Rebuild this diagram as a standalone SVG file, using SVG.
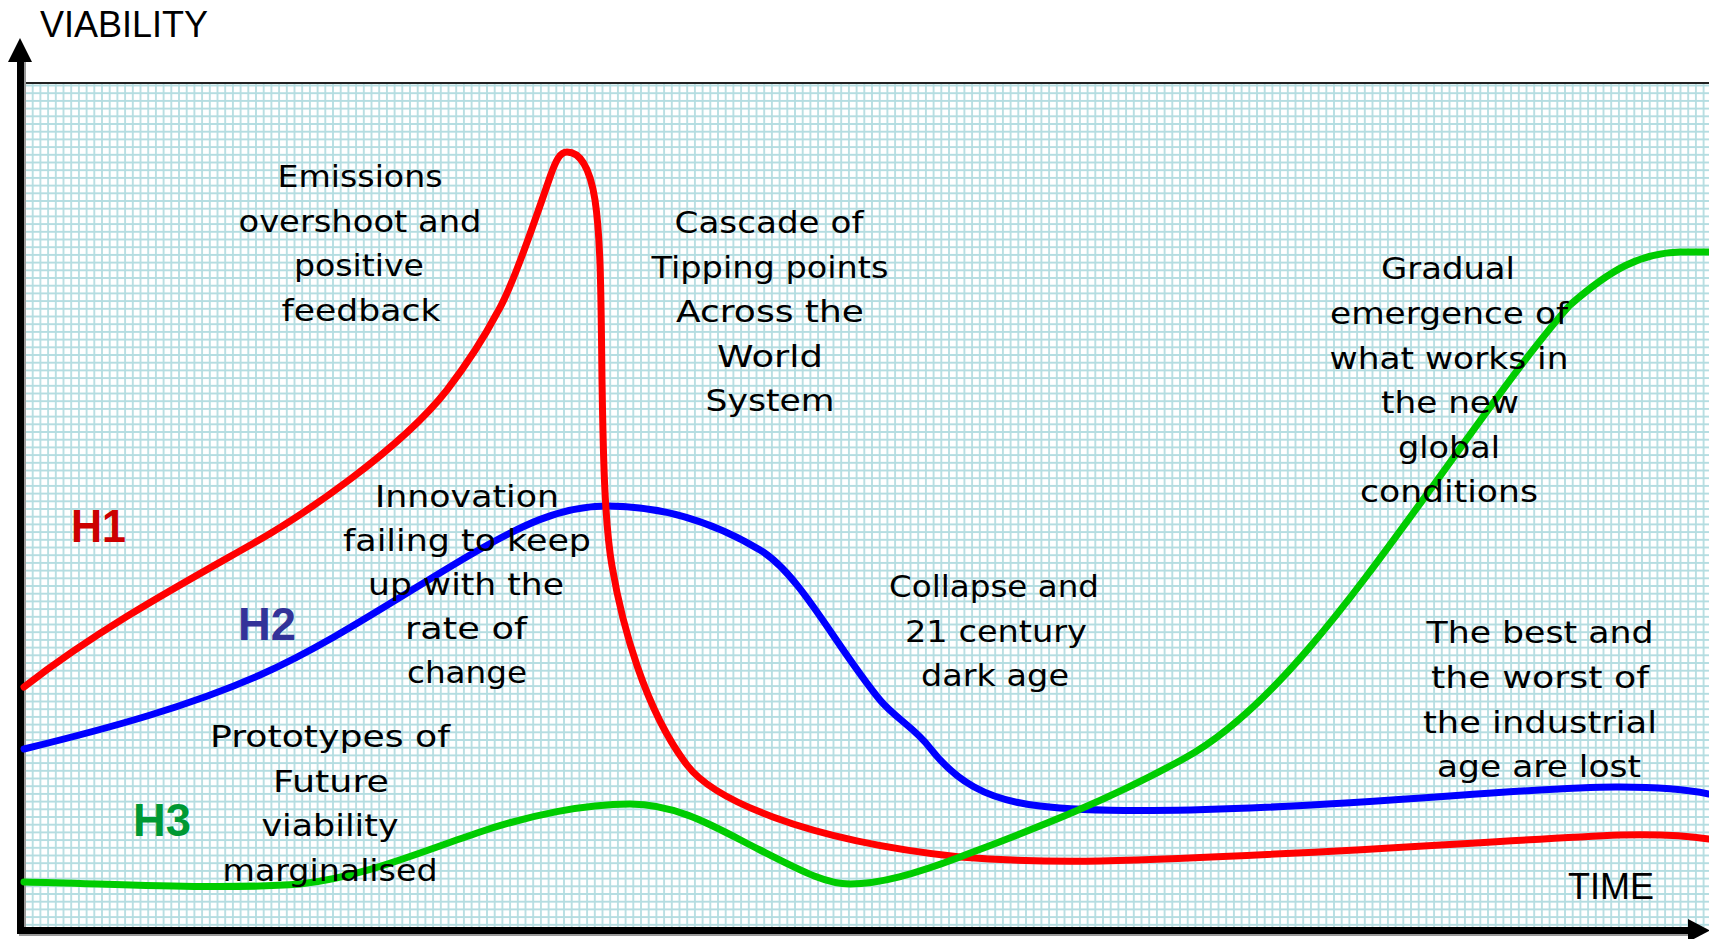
<svg xmlns="http://www.w3.org/2000/svg" width="1709" height="939" viewBox="0 0 1709 939">
<defs>
<pattern id="grid" x="21.15" y="81.65" width="7.7" height="7.7" patternUnits="userSpaceOnUse">
<path d="M3.85,0 V7.7 M0,3.85 H7.7" stroke="#b5dde1" stroke-width="1.8" fill="none"/>
</pattern>
<style>
.lbl{font-family:"DejaVu Sans","Noto Sans",sans-serif;font-size:30px;fill:#000;text-anchor:middle}
.ax{font-family:"Liberation Sans",Arial,sans-serif;font-size:36px;fill:#000}
.h{font-family:"Liberation Sans",Arial,sans-serif;font-size:46px;font-weight:bold}
.crv{fill:none;stroke-width:7;stroke-linecap:round;stroke-linejoin:round}
</style>
</defs>
<rect width="1709" height="939" fill="#fff"/>
<g id="grid-area">
<rect x="24" y="84" width="1685" height="843" fill="url(#grid)"/>
<line x1="24" y1="83" x2="1709" y2="83" stroke="#222" stroke-width="2"/>
</g>
<g id="axes">
<path d="M22.5,60 V932.5 H1690" fill="none" stroke="#999" stroke-width="7"/>
<path d="M20.5,60 V930.5 H1690" fill="none" stroke="#000" stroke-width="7"/>
<polygon points="20,38 8,62 32,62" fill="#000"/>
<polygon points="1710,930.5 1688,919 1688,942" fill="#000"/>
<text class="ax" x="40" y="37">VIABILITY</text>
<text class="ax" x="1568" y="899">TIME</text>
</g>
<g id="connectors">
<path id="curve-h2" class="crv" stroke="#0000ff" d="M24,749 C110,728 190,706 260,675 C330,644 400,596 470,555 C520,526 560,506 607,506 C660,506 710,520 760,550 C800,574 835,645 880,700 C895,718 915,728 930,748 C955,780 985,800 1040,806 C1080,811 1150,812 1250,808 C1400,802 1550,786 1620,787 C1660,787 1690,790 1709,794"/>
<path id="curve-h1" class="crv" stroke="#ff0000" d="M24,687 C100,628 180,585 254,543 C300,517 400,450 447,390 C470,360 488,330 497,313 C510,292 530,235 550,177 C556,160 560,152 567,152 C580,152 590,168 595,200 C601,240 601,300 602,380 C603,440 604,520 612,566 C622,625 645,710 687,765 C712,798 800,840 960,857 C1000,860 1050,862 1100,861 C1300,856 1500,840 1620,835 C1660,834 1690,836 1709,839"/>
<path id="curve-h3" class="crv" stroke="#00cc00" d="M24,882 C120,884 220,890 300,884 C360,878 420,852 480,832 C530,815 585,804 630,804 C680,804 720,830 760,850 C800,870 825,884 850,884 C880,884 915,874 960,857 C1020,834 1100,805 1185,758 C1270,711 1350,600 1430,490 C1480,421 1530,350 1570,305 C1610,270 1640,253 1680,252 C1695,252 1705,252 1709,252"/>
</g>
<g id="label-h1"><text class="h" x="71" y="542" fill="#cc0000" textLength="55" lengthAdjust="spacingAndGlyphs">H1</text></g>
<g id="label-h2"><text class="h" x="238" y="640" fill="#333399" textLength="58" lengthAdjust="spacingAndGlyphs">H2</text></g>
<g id="label-h3"><text class="h" x="133" y="836" fill="#009933" textLength="58" lengthAdjust="spacingAndGlyphs">H3</text></g>
<g id="note-emissions">
<text class="lbl" x="360" y="187" textLength="165" lengthAdjust="spacingAndGlyphs">Emissions</text>
<text class="lbl" x="360" y="231.5" textLength="243" lengthAdjust="spacingAndGlyphs">overshoot and</text>
<text class="lbl" x="359" y="276" textLength="130" lengthAdjust="spacingAndGlyphs">positive</text>
<text class="lbl" x="361" y="320.5" textLength="159" lengthAdjust="spacingAndGlyphs">feedback</text>
</g>
<g id="note-cascade">
<text class="lbl" x="769" y="233" textLength="189" lengthAdjust="spacingAndGlyphs">Cascade of</text>
<text class="lbl" x="770" y="277.5" textLength="237" lengthAdjust="spacingAndGlyphs">Tipping points</text>
<text class="lbl" x="770" y="322" textLength="188" lengthAdjust="spacingAndGlyphs">Across the</text>
<text class="lbl" x="770" y="366.5" textLength="106" lengthAdjust="spacingAndGlyphs">World</text>
<text class="lbl" x="770" y="411" textLength="129" lengthAdjust="spacingAndGlyphs">System</text>
</g>
<g id="note-innovation">
<text class="lbl" x="467" y="507" textLength="184" lengthAdjust="spacingAndGlyphs">Innovation</text>
<text class="lbl" x="467" y="551" textLength="248" lengthAdjust="spacingAndGlyphs">failing to keep</text>
<text class="lbl" x="466" y="595" textLength="196" lengthAdjust="spacingAndGlyphs">up with the</text>
<text class="lbl" x="466" y="639" textLength="122" lengthAdjust="spacingAndGlyphs">rate of</text>
<text class="lbl" x="467" y="683" textLength="120" lengthAdjust="spacingAndGlyphs">change</text>
</g>
<g id="note-prototypes">
<text class="lbl" x="330" y="747" textLength="240" lengthAdjust="spacingAndGlyphs">Prototypes of</text>
<text class="lbl" x="331" y="791.5" textLength="116" lengthAdjust="spacingAndGlyphs">Future</text>
<text class="lbl" x="330" y="836" textLength="137" lengthAdjust="spacingAndGlyphs">viability</text>
<text class="lbl" x="330" y="880.5" textLength="215" lengthAdjust="spacingAndGlyphs">marginalised</text>
</g>
<g id="note-collapse">
<text class="lbl" x="994" y="597" textLength="210" lengthAdjust="spacingAndGlyphs">Collapse and</text>
<text class="lbl" x="996" y="641.5" textLength="182" lengthAdjust="spacingAndGlyphs">21 century</text>
<text class="lbl" x="995" y="686" textLength="148" lengthAdjust="spacingAndGlyphs">dark age</text>
</g>
<g id="note-gradual">
<text class="lbl" x="1448" y="279" textLength="134" lengthAdjust="spacingAndGlyphs">Gradual</text>
<text class="lbl" x="1449" y="324" textLength="238" lengthAdjust="spacingAndGlyphs">emergence of</text>
<text class="lbl" x="1449" y="368.5" textLength="239" lengthAdjust="spacingAndGlyphs">what works in</text>
<text class="lbl" x="1450" y="413" textLength="138" lengthAdjust="spacingAndGlyphs">the new</text>
<text class="lbl" x="1449" y="457.5" textLength="102" lengthAdjust="spacingAndGlyphs">global</text>
<text class="lbl" x="1449" y="502" textLength="178" lengthAdjust="spacingAndGlyphs">conditions</text>
</g>
<g id="note-best">
<text class="lbl" x="1540" y="643" textLength="227" lengthAdjust="spacingAndGlyphs">The best and</text>
<text class="lbl" x="1540" y="688" textLength="218" lengthAdjust="spacingAndGlyphs">the worst of</text>
<text class="lbl" x="1540" y="732.5" textLength="234" lengthAdjust="spacingAndGlyphs">the industrial</text>
<text class="lbl" x="1539" y="777" textLength="204" lengthAdjust="spacingAndGlyphs">age are lost</text>
</g>
</svg>
